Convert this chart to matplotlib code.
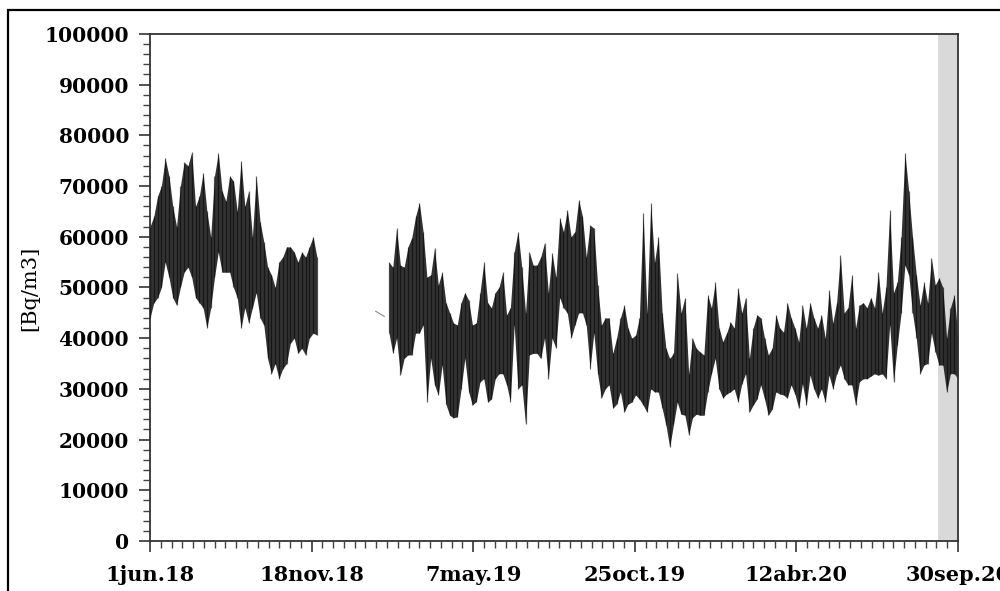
import numpy as np
import pandas as pd
import matplotlib
matplotlib.use("Agg")
import matplotlib.pyplot as plt
import matplotlib.dates as mdates
from matplotlib.patches import Rectangle

# Radon concentration as (low, high) envelope every 4 days, in kBq/m3
dates1 = pd.date_range("2018-06-01", "2018-11-24", freq="4D")
lo1 = [44, 47, 48, 50, 55, 52, 48, 46.5, 50, 53, 54, 52, 48, 47, 46, 42, 46, 52, 57, 53,
       53, 53, 50, 48, 42, 46, 43, 46, 49, 44, 42.6, 36, 33, 35, 32, 34, 35, 39, 40, 37,
       38, 36.7, 40, 41, 40.6]
hi1 = [62, 64, 68, 70, 75.5, 72, 66, 62, 70, 74.7, 74, 76.7, 66, 68, 72.6, 65, 60, 72, 76.5, 69,
       67, 72, 71, 65, 75, 66, 69, 60, 72, 63, 59, 54, 52.5, 50, 55, 56, 58, 58, 57, 55,
       57, 56, 58, 60, 56]

dates2 = pd.date_range("2019-02-08", "2020-09-30", freq="4D")
lo2 = [41, 37, 40, 32.7, 36, 36.7, 36.7, 41, 41, 42.6,
       27.4, 36, 30.8, 28.8, 34.7, 27, 24.8, 24.3, 24.5, 30,
       36, 29.4, 26.8, 27.5, 31.4, 32, 27.4, 28, 32, 33,
       33, 30.8, 27.5, 42.6, 30, 30.8, 23, 36.7, 37, 37,
       36, 40, 32, 40, 38, 48, 46, 45, 40, 42.6,
       45, 45, 42.6, 34, 41, 33, 28.2, 30, 30.8, 26.2,
       27, 29.4, 25.4, 27, 27.4, 28.8, 28, 26.8, 25.4, 30,
       29.4, 29.4, 26.2, 22.9, 18.5, 23, 27.4, 25, 24.8, 20.9,
       24.3, 25, 24.8, 24.8, 29.4, 33, 36, 30, 28.2, 29,
       29.4, 30, 27.4, 31, 33, 25.4, 26.8, 28, 30.8, 28,
       24.8, 26, 29.4, 29, 28.8, 28.2, 30.8, 29, 26.2, 31,
       26.8, 32.7, 30, 28.2, 30, 27.4, 32.7, 30, 33, 34.7,
       32, 30.8, 30.8, 26.8, 31.4, 32, 32, 32.5, 33, 32.7,
       33, 32, 42.6, 31.4, 38.7, 45, 54.4, 52.5, 45, 40,
       33, 34.7, 35, 41, 37.3, 34.7, 34.7, 29.4, 33, 33,
       32]
hi2 = [55, 54, 61.7, 54.4, 54, 58, 59.8, 64, 66.7, 61,
       52, 52.5, 57.8, 50.5, 53, 47, 45, 43, 42.6, 47,
       49, 47.5, 42.6, 43, 49, 55, 47, 46, 49, 50,
       53, 44.6, 46, 57, 61, 54, 45, 57, 54.4, 54.4,
       56, 58.8, 49, 56.8, 52, 63.7, 61, 65.3, 60, 61,
       67.3, 64, 56, 62.3, 61.7, 50.5, 42.6, 44, 44, 37,
       40, 44, 46.5, 42, 40, 40.6, 44, 64.7, 45, 66.7,
       55, 60, 45, 38, 36, 37, 52.8, 45, 48, 33,
       40, 38, 37.3, 36.7, 48.5, 46, 51, 42, 39.3, 41,
       43.2, 42, 49.9, 45, 48, 36, 42, 44.6, 44, 40,
       36.7, 38, 44.6, 42, 41.2, 47, 44, 42, 39.3, 46.5,
       42, 47, 44, 42, 44.6, 40, 49.5, 43, 47, 56.4,
       45, 46, 52.5, 42, 46.5, 47, 46, 48, 46, 53,
       45, 50, 65.3, 49, 51, 60, 76.5, 69, 60, 52.5,
       46.5, 51, 47, 55.8, 50.5, 51.9, 50, 40, 46, 48.5,
       40]

# a few isolated readings inside the gap
stray_dates = pd.to_datetime(["2019-01-25", "2019-02-03"])
stray_vals = [45.3, 44.3]

shade_start = pd.Timestamp("2020-09-09")
x_start = pd.Timestamp("2018-06-01")
x_end = pd.Timestamp("2020-09-30")
tick_labels = ["1jun.18", "18nov.18", "7may.19", "25oct.19", "12abr.20", "30sep.20"]

fig = plt.figure(figsize=(10, 5.91), dpi=100)
ax = fig.add_axes([0.15, 0.0846, 0.808, 0.858])

ax.axvspan(shade_start, x_end, color="#d9d9d9", zorder=0, lw=0)

for d, lo, hi in [(dates1, lo1, hi1), (dates2, lo2, hi2)]:
    lo_v = np.array(lo) * 1000
    hi_v = np.array(hi) * 1000
    ax.fill_between(d, lo_v, hi_v, color="#1c1c1c", alpha=0.9, lw=0, zorder=2)
    ax.vlines(d, lo_v, hi_v, color="#000000", linewidth=0.9, alpha=0.55, zorder=3)
ax.plot(stray_dates, np.array(stray_vals) * 1000, color="#888888", lw=0.8, zorder=2)

ax.set_ylim(0, 100000)
ax.set_xlim(x_start, x_end)

# ticks
x0, x1 = mdates.date2num(x_start), mdates.date2num(x_end)
major = np.linspace(x0, x1, 6)
ax.set_xticks(major)
ax.set_xticklabels(tick_labels)
ax.set_xticks(np.linspace(x0, x1, 76), minor=True)
ax.set_yticks(np.arange(0, 100001, 10000))
ax.set_yticks(np.arange(0, 100001, 2000), minor=True)

ax.tick_params(axis="both", which="major", direction="out", length=8, width=1.2, color="#333333")
ax.tick_params(axis="both", which="minor", direction="out", length=5, width=1.0, color="#444444")
ax.tick_params(axis="y", which="major", pad=7)
ax.tick_params(axis="x", which="major", pad=9)

for lbl in ax.get_yticklabels():
    lbl.set_fontfamily("DejaVu Serif")
    lbl.set_fontweight("bold")
    lbl.set_fontsize(14.5)
for lbl in ax.get_xticklabels():
    lbl.set_fontfamily("DejaVu Serif")
    lbl.set_fontweight("bold")
    lbl.set_fontsize(15)

for s in ax.spines.values():
    s.set_linewidth(1.3)
    s.set_color("#333333")

fig.text(0.030, 1 - 288 / 591, "[Bq/m3]", rotation=90, ha="center", va="center",
         family="DejaVu Serif", fontsize=15)

# outer frame of the original figure
fig.patches.append(Rectangle((0.008, -0.1), 1.2, 1.1 - 10 / 591, transform=fig.transFigure,
                             fill=False, edgecolor="black", linewidth=1.6))

fig.savefig("out.png", dpi=100)
